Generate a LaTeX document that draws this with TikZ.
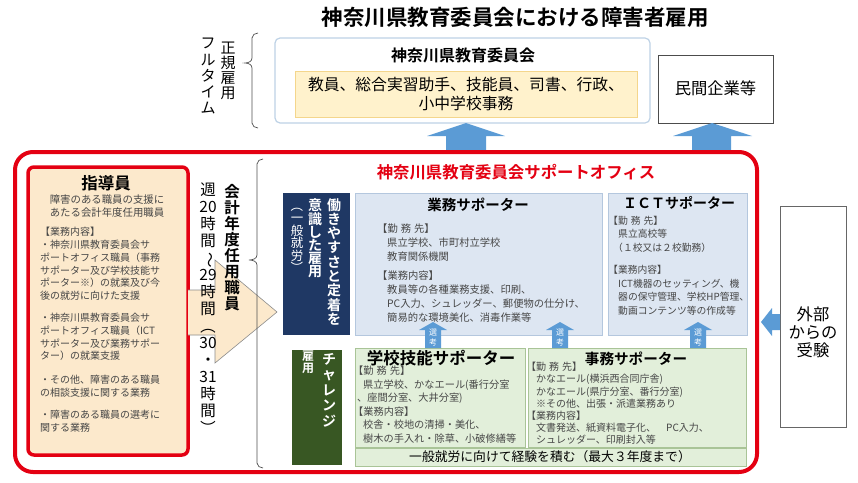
\documentclass[tikz,border=0pt]{standalone}
\usepackage{graphicx}
\usepackage{fontspec}
\setmainfont{Noto Sans CJK JP}[BoldFont={Noto Sans CJK JP Bold}]
\definecolor{redb}{RGB}{228,0,18}
\definecolor{peach}{RGB}{252,233,204}
\definecolor{yel}{RGB}{255,242,204}
\definecolor{yelb}{RGB}{244,214,140}
\definecolor{lblue}{RGB}{221,230,242}
\definecolor{lblueb}{RGB}{180,199,222}
\definecolor{lgreen}{RGB}{226,239,218}
\definecolor{lgreenb}{RGB}{169,196,151}
\definecolor{navy}{RGB}{31,56,100}
\definecolor{dgreen}{RGB}{56,87,35}
\definecolor{arrblue}{RGB}{91,155,213}
\definecolor{txt}{RGB}{70,70,70}
\definecolor{topb}{RGB}{190,210,230}
\definecolor{bracec}{RGB}{80,80,80}
\newcommand\fs[2]{\fontsize{#1}{#2}\selectfont}
\newcommand\vr[1]{\rotatebox[origin=c]{-90}{#1}}
\newcommand\ind{\hspace*{10pt}}
\newcommand\kinmu{【勤\hspace{3pt}務\hspace{3pt}先】}
\tikzset{
  box/.style={draw, anchor=north west, inner sep=0, outer sep=0},
  small/.style={anchor=north west, align=left, inner sep=0, text=txt},
  vcol/.style={anchor=north, align=center, inner sep=0},
  ttl/.style={inner sep=0, font=\bfseries\fs{15}{17}},
  blu/.style={fill=arrblue, draw=none},
}
\begin{document}
\begin{tikzpicture}[x=1pt,y=-1pt]
\useasboundingbox (0,0) rectangle (858,482);
\fill[white] (0,0) rectangle (858,482);

% title
\node[inner sep=0, font=\bfseries\fs{21.5}{24}] (title) at (515,17) {神奈川県教育委員会における障害者雇用};

% full-time label
\node[vcol, font=\fs{15}{15}] (seiki) at (228,42) {正\\規\\雇\\用};
\node[vcol, font=\fs{15}{16.3}] (full) at (208,38) {フ\\ル\\タ\\イ\\ム};
\draw[bracec, line width=0.7] (258,33) to[out=180,in=90] (252,38) -- (252,58) to[out=-90,in=0] (245,63) to[out=0,in=90] (252,68) -- (252,123) to[out=-90,in=180] (258,128);

% top board box
\node[box, draw=topb, line width=1.2, rounded corners=5, fill=white, minimum width=375, minimum height=85] (board) at (275,38) {};
\node[ttl, font=\bfseries\fs{16}{18}] (boardt) at (463,55) {神奈川県教育委員会};
\node[box, draw=yelb, fill=yel, line width=0.6, minimum width=342, minimum height=46] (jobs) at (295,71) {};
\node[inner sep=0, align=center, font=\fs{15.8}{18.5}] (jobst) at (466,94) {教員、総合実習助手、技能員、司書、行政、\\小中学校事務};

\node[box, draw=black!70, line width=0.8, fill=white, minimum width=115, minimum height=68] (minkan) at (658,55) {};
\node[inner sep=0, font=\fs{16.3}{18}] (minkant) at (715.5,88) {民間企業等};

% big up arrows
\path[blu] (446,151) -- (446,136) -- (427,136) -- (466,123) -- (505,136) -- (486,136) -- (486,151) -- cycle;
\path[blu] (692,151) -- (692,136) -- (673,136) -- (712,123) -- (752,136) -- (731,136) -- (731,151) -- cycle;

% red frame
\draw[redb, line width=4, rounded corners=18] (15,152) rectangle (757,472);

% instructor box
\node[box, draw=redb, fill=peach, line width=3.5, rounded corners=6, minimum width=160, minimum height=288] (shido) at (28,167) {};
\node[ttl, font=\bfseries\fs{16.5}{18}] (shidot) at (106,183) {指導員};
\node[inner sep=0, anchor=north, align=center, text=txt, font=\fs{10.4}{13}] (shidoa) at (107,195) {障害のある職員の支援に\\あたる会計年度任用職員};
\node[small, font=\fs{10}{12.8}] (shidob) at (40,227) {【業務内容】\\・神奈川県教育委員会サ\\ポートオフィス職員（事務\\サポーター及び学校技能サ\\ポーター※）の就業及び今\\後の就労に向けた支援\\[9pt]・神奈川県教育委員会サ\\ポートオフィス職員（ICT\\サポーター及び業務サポー\\ター）の就業支援\\[11pt]・その他、障害のある職員\\の相談支援に関する業務\\[9pt]・障害のある職員の選考に\\関する業務};

% chevron
\draw[fill=peach, draw=black!45, line width=0.6] (188,290) -- (215,290) -- (215,260) -- (277,312) -- (215,363) -- (215,335) -- (188,335);

% hours and title vertical
\node[vcol, font=\fs{15.5}{17}] (hours) at (208,183) {週\\20\\時\\間\\\vr{～}\\29\\時\\間\\\vr{（}\\30\\・\\31\\時\\間\\\vr{）}};
\node[vcol, font=\bfseries\fs{15.5}{16}] (kaikei) at (232,184) {会\\計\\年\\度\\任\\用\\職\\員};
\draw[bracec, line width=0.7] (263,159) to[out=180,in=90] (257,164) -- (257,255) to[out=-90,in=0] (249,260) to[out=0,in=90] (257,265) -- (257,463) to[out=-90,in=180] (263,468);

% support office title
\node[ttl, text=redb, font=\bfseries\fs{16.4}{18}] (office) at (516,172) {神奈川県教育委員会サポートオフィス};

% navy box
\node[box, draw=none, fill=navy, minimum width=67, minimum height=142] (navyb) at (283,193) {};
\node[vcol, text=white, font=\bfseries\fs{14}{14.3}] (nv1) at (334,198) {働\\き\\や\\す\\さ\\と\\定\\着\\を};
\node[vcol, text=white, font=\bfseries\fs{14}{13}] (nv2) at (315,198) {意\\識\\し\\た\\雇\\用};
\node[vcol, text=white, font=\fs{12.5}{12.5}] (nv3) at (297,199) {\vr{（}\\一\\般\\就\\労\\\vr{）}};

% green box
\node[box, draw=none, fill=dgreen, minimum width=50, minimum height=115] (greenb) at (292,350) {};
\node[vcol, text=white, font=\bfseries\fs{14}{15.5}] (gr1) at (329,353) {チ\\ャ\\レ\\ン\\ジ};
\node[vcol, text=white, font=\bfseries\fs{12}{12}] (gr2) at (308,351) {雇\\用};

% gyomu supporter
\node[box, draw=lblueb, fill=lblue, line width=0.6, minimum width=247, minimum height=142] (gyomu) at (355,193) {};
\node[ttl, font=\bfseries\fs{14.5}{16}] (gyomut) at (478,205) {業務サポーター};
\node[small, font=\fs{10.3}{14}] (gyomux) at (377,224) {\kinmu\\\ind 県立学校、市町村立学校\\\ind 教育関係機関\\[5pt]【業務内容】\\\ind 教員等の各種業務支援、印刷、\\\ind PC入力、シュレッダー、郵便物の仕分け、\\\ind 簡易的な環境美化、消毒作業等};

% ICT supporter
\node[box, draw=lblueb, fill=lblue, line width=0.6, minimum width=139, minimum height=142] (ict) at (608,193) {};
\node[ttl, font=\bfseries\fs{14}{16}] (ictt) at (679,203) {ＩＣＴサポーター};
\node[small, font=\fs{9.8}{13.5}] (ictx) at (608,216) {\kinmu\\\ind 県立高校等\\\hspace*{5pt}（１校又は２校勤務）\\[9pt]【業務内容】\\\ind ICT機器のセッティング、機\\\ind 器の保守管理、学校HP管理、\\\ind 動画コンテンツ等の作成等};

% gakko gino supporter
\node[box, draw=lgreenb, fill=lgreen, line width=0.6, minimum width=170, minimum height=99] (gakko) at (355,348) {};
\node[ttl, font=\bfseries\fs{16.5}{18}] (gakkot) at (441,358) {学校技能サポーター};
\node[small, font=\fs{10.2}{13.5}] (gakkox) at (353,366) {\kinmu\\\ind 県立学校、かなエール(番行分室\\\hspace*{4pt}、座間分室、大井分室)\\【業務内容】\\\ind 校舎・校地の清掃・美化、\\\ind 樹木の手入れ・除草、小破修繕等};

% jimu supporter
\node[box, draw=lgreenb, fill=lgreen, line width=0.6, minimum width=218, minimum height=99] (jimu) at (528,348) {};
\node[ttl, font=\bfseries\fs{14.6}{16}] (jimut) at (636,359) {事務サポーター};
\node[small, font=\fs{10}{12.2}] (jimux) at (526,362) {\kinmu\\\ind かなエール(横浜西合同庁舎)\\\ind かなエール(県庁分室、番行分室)\\\ind ※その他、出張・派遣業務あり\\【業務内容】\\\ind 文書発送、紙資料電子化、　PC入力、\\\ind シュレッダー、印刷封入等};

% bottom strip
\node[box, draw=lgreenb, fill=lgreen, line width=0.6, minimum width=391, minimum height=18] (strip) at (355,448) {};
\node[inner sep=0, font=\fs{12.8}{14}] (stript) at (550,457) {一般就労に向けて経験を積む（最大３年度まで）};

% selection arrows
\foreach \cx/\nm in {433/sa,560/sb,698/sc}{
  \path[blu] (\cx-8,348) -- (\cx-8,330) -- (\cx-14,330) -- (\cx,322) -- (\cx+14,330) -- (\cx+8,330) -- (\cx+8,348) -- cycle;
  \node[inner sep=0, text=white, align=center, font=\fs{8}{10}] (\nm) at (\cx,338) {選\\考};
}

% external
\node[box, draw=black!60, line width=0.8, fill=white, minimum width=66, minimum height=221] (ext) at (780,206) {};
\node[inner sep=0, align=center, font=\fs{16.3}{18}] (extt) at (813,332) {外部\\からの\\受験};
\path[blu] (780,314) -- (772,314) -- (772,308) -- (761,322) -- (772,336) -- (772,330) -- (780,330) -- cycle;
\end{tikzpicture}
\end{document}
